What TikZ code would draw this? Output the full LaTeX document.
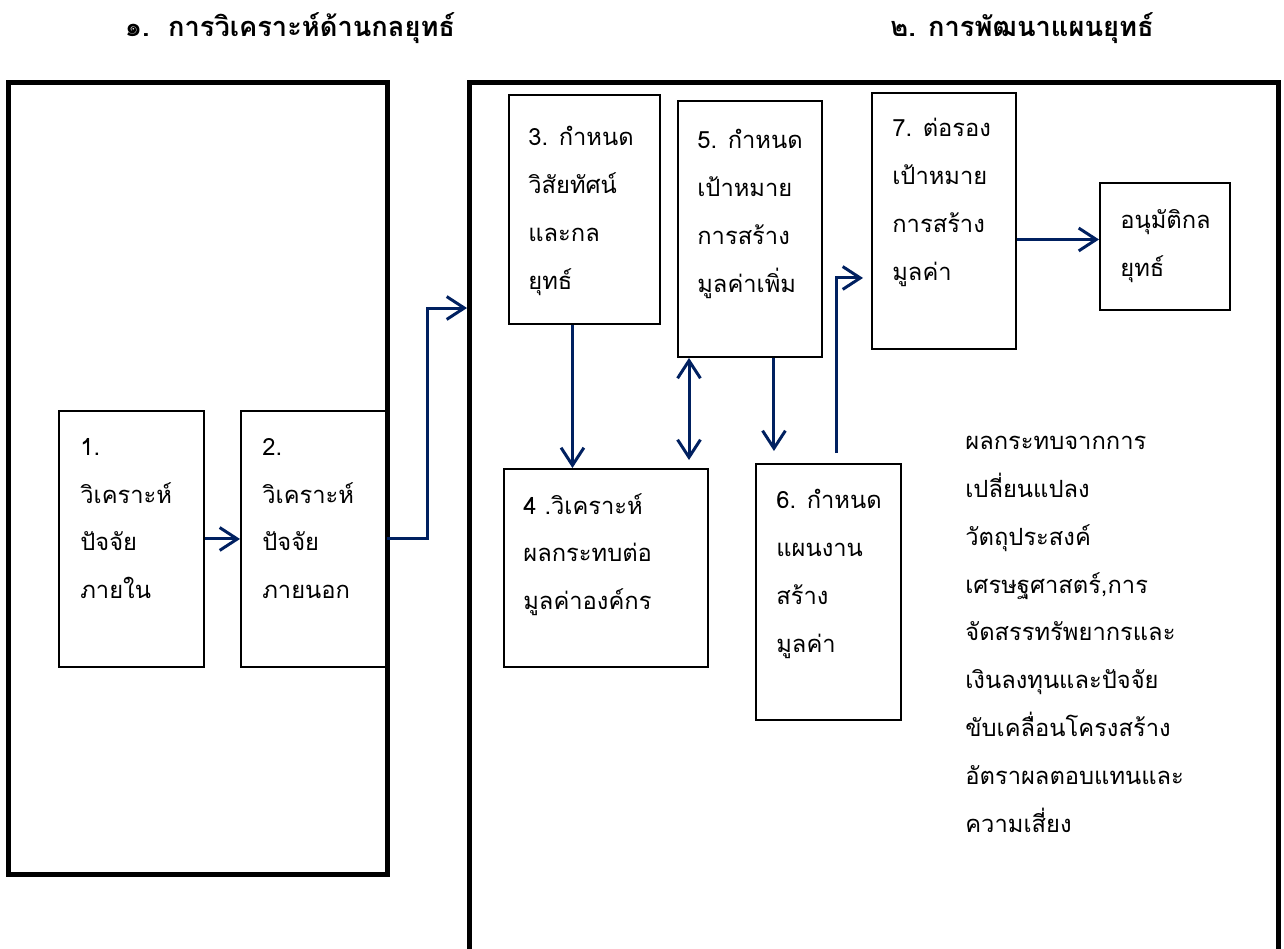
\documentclass[tikz,border=0pt]{standalone}
\usepackage{fontspec}
\newfontfamily\thaifont[Script=Thai]{Loma}
\usetikzlibrary{arrows.meta,calc}
\definecolor{navy}{RGB}{0,32,96}
\tikzset{
    boxsize/.style 2 args={minimum width=#1*0.02cm, minimum height=#2*0.02cm},
}

\begin{document}
\begin{tikzpicture}[
x=0.02cm, y=-0.02cm,
frame/.style={draw, line width=2.8pt, anchor=north west, inner sep=0pt},
stage/.style={draw, line width=1.1pt, anchor=north west, inner sep=0pt},
txt/.style={anchor=north west, align=left, inner sep=0pt, font=\thaifont\fontsize{13.5}{27.2}\selectfont, execute at begin node=\strut},
title/.style={font=\thaifont\bfseries\fontsize{15.5}{18}\selectfont, inner sep=0pt},
link/.style={draw=navy, line width=1.7pt, -{Straight Barb[length=10pt,width=13pt]}},
]
\useasboundingbox (0,0) rectangle (1284,948);

% headings
\node[title] (head1) at (290,28) {๑.\ \ การวิเคราะห์ด้านกลยุทธ์};
\node[title] (head2) at (1022,28) {๒. การพัฒนาแผนยุทธ์};

% the two phases
\node[frame, boxsize={379}{792}] (lframe) at (6,80) {};
\node[frame, boxsize={809}{900}] (rframe) at (467,80) {};

% analysis
\node[stage, boxsize={145}{256}] (b1) at (58,410) {};
\node[stage, boxsize={145}{256}] (b2) at (240,410) {};
\node[txt] (t1) at (80,438) {1.\\วิเคราะห์\\ปัจจัย\\ภายใน};
\node[txt] (t2) at (262,438) {2.\\วิเคราะห์\\ปัจจัย\\ภายนอก};

% development
\node[stage, boxsize={151}{229}] (b3) at (508,94) {};
\node[stage, boxsize={204}{198}] (b4) at (503,468) {};
\node[stage, boxsize={144}{256}] (b5) at (677,100) {};
\node[stage, boxsize={145}{256}] (b6) at (755,463) {};
\node[stage, boxsize={144}{256}] (b7) at (871,92) {};
\node[stage, boxsize={130}{127}] (b8) at (1099,182) {};
\node[txt] (t3) at (528,126) {3. กำหนด\\วิสัยทัศน์\\และกล\\ยุทธ์};
\node[txt] (t4) at (523,493) {4 .วิเคราะห์\\ผลกระทบต่อ\\มูลค่าองค์กร};
\node[txt] (t5) at (697,129) {5. กำหนด\\เป้าหมาย\\การสร้าง\\มูลค่าเพิ่ม};
\node[txt] (t6) at (776,489) {6. กำหนด\\แผนงาน\\สร้าง\\มูลค่า};
\node[txt] (t7) at (892,118) {7. ต่อรอง\\เป้าหมาย\\การสร้าง\\มูลค่า};
\node[txt] (t8) at (1120,209) {อนุมัติกล\\ยุทธ์};
\node[txt] (notes) at (965,436) {ผลกระทบจากการ\\เปลี่ยนแปลง\\วัตถุประสงค์\\เศรษฐศาสตร์,การ\\จัดสรรทรัพยากรและ\\เงินลงทุนและปัจจัย\\ขับเคลื่อนโครงสร้าง\\อัตราผลตอบแทนและ\\ความเสี่ยง};

% connectors
\coordinate (entry) at (467,308);
\coordinate (a3) at ($(b3.south)+(-12,0)$);
\coordinate (a5) at ($(b5.south west)+(12,0)$);
\coordinate (a6) at ($(b5.south)+(24,0)$);
\coordinate (a7) at ($(b6.north)+(8,-10)$);
\coordinate (e7) at ($(b7.west)+(-8,57)$);
\coordinate (e8) at ($(b8.west)+(0,-7)$);

\draw[link] (b1) -- (b2);
\draw[link] (b2.east) -- ++(41,0) |- (entry);
\draw[link] (a3) -- (a3 |- b4.north);
\draw[link, {Straight Barb[length=10pt,width=13pt]}-{Straight Barb[length=10pt,width=13pt]}] (a5) -- ($(a5 |- b4.north)+(0,-8)$);
\draw[link] (a6) -- ($(a6 |- b6.north)+(0,-12)$);
\draw[link] (a7) |- (e7);
\draw[link] (b7.east |- e8) -- (e8);

\end{tikzpicture}
\end{document}
